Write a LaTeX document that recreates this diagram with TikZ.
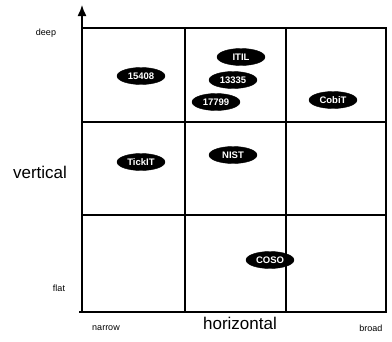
\documentclass[tikz,border=0pt]{standalone}
\usepackage{fontspec}
\setsansfont{Liberation Sans}
\usetikzlibrary{shapes,arrows.meta,positioning}

\begin{document}
\begin{tikzpicture}[x=1pt, y=-1pt,
    cell/.style={draw=black, line width=1.2pt},
    axis/.style={-{Latex[length=11pt,width=9pt]}, line width=1.4pt, draw=black},
    badge/.style={draw=black, ellipse, fill=black, text=white, minimum width=48pt, minimum height=17pt,
      inner sep=0pt, font=\sffamily\bfseries\fontsize{9.5}{10}\selectfont},
    tick/.style={font=\sffamily\fontsize{9}{10}\selectfont},
    axislabel/.style={font=\sffamily\fontsize{17}{19}\selectfont},
]
\useasboundingbox (0,0) rectangle (392,341);

% Axes
\coordinate (origin) at (82,312);
\coordinate (ytip) at (82,5);
\draw[axis] (origin) -- (ytip);
\draw[cell] (79,312) -- (386,312);

% Grid
\draw[cell] (82,28) rectangle (386,312);
\draw[cell] (185,28) -- (185,312);
\draw[cell] (286,28) -- (286,312);
\draw[cell] (82,122) -- (386,122);
\draw[cell] (82,215) -- (386,215);

% Axis labels
\node[tick] (deep) at (46,33) {deep};
\node[tick] (flat) at (59,288) {flat};
\node[axislabel] (vert) at (40,172) {vertical};
\node[tick] (narrow) at (106,328) {narrow};
\node[axislabel] (horiz) at (240,323) {horizontal};
\node[tick] (broad) at (371,328) {broad};

% Standards
\node[badge] (iso15408) at (141,76) {15408};
\node[badge] (itil) at (241,57) {ITIL};
\node[badge] (iso13335) at (233,80) {13335};
\node[badge] (iso17799) at (216,102) {17799};
\node[badge] (cobit) at (333,100) {CobiT};
\node[badge] (tickit) at (141,162) {TickIT};
\node[badge] (nist) at (233,155) {NIST};
\node[badge] (coso) at (270,260) {COSO};

\end{tikzpicture}
\end{document}
